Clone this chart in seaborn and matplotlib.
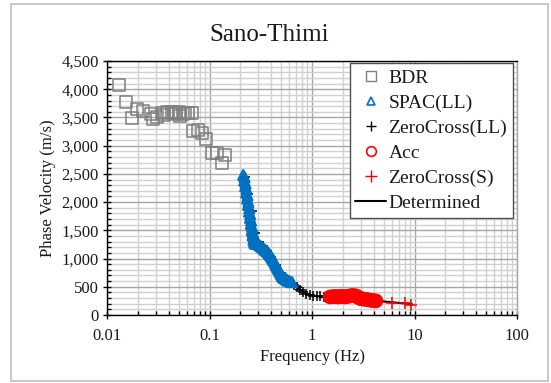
import numpy as np
import pandas as pd
import matplotlib
matplotlib.use("Agg")
import matplotlib.pyplot as plt
import seaborn as sns
from matplotlib.lines import Line2D
from matplotlib.ticker import LogLocator, MultipleLocator, FuncFormatter
from matplotlib.patches import Rectangle

# ---- data ----
bdr_f = [0.0132, 0.0153, 0.0174, 0.0195, 0.0226, 0.0269, 0.0283, 0.0305, 0.0342, 0.0360,
         0.0382, 0.0428, 0.0450, 0.0471, 0.0500, 0.0516, 0.0550, 0.0577, 0.0620, 0.0670,
         0.0695, 0.0778, 0.0839, 0.0925, 0.105, 0.1175, 0.1315, 0.1416]
bdr_v = [4070, 3779, 3485, 3650, 3620, 3561, 3478, 3513, 3574, 3540,
         3591, 3591, 3560, 3584, 3600, 3526, 3560, 3574, 3580, 3584,
         3260, 3278, 3219, 3124, 2865, 2876, 2698, 2840]

spac_f = [0.213, 0.220, 0.218, 0.225, 0.223, 0.230, 0.228, 0.235, 0.233, 0.240, 0.238, 0.245,
          0.243, 0.250, 0.248, 0.255, 0.253, 0.260, 0.258, 0.265, 0.263, 0.270, 0.268, 0.275,
          0.273, 0.280, 0.285, 0.29, 0.30, 0.31, 0.32, 0.33, 0.34, 0.35, 0.36, 0.37, 0.38,
          0.39, 0.40, 0.41, 0.42, 0.43, 0.44, 0.45, 0.46, 0.47, 0.48, 0.49, 0.50, 0.51, 0.52,
          0.53, 0.54, 0.55, 0.56, 0.57, 0.58, 0.60, 0.62, 0.64]
spac_v = [2480, 2440, 2380, 2330, 2280, 2230, 2170, 2120, 2060, 2000, 1950, 1890,
          1830, 1780, 1720, 1670, 1610, 1560, 1500, 1460, 1410, 1370, 1330, 1300,
          1280, 1260, 1270, 1260, 1250, 1230, 1210, 1190, 1170, 1150, 1130, 1110, 1090,
          1060, 1030, 1000, 970, 940, 900, 870, 840, 810, 780, 750, 720, 690, 670,
          660, 650, 640, 630, 620, 610, 600, 590, 580]

zcll_f = [0.22, 0.24, 0.26, 0.28, 0.30, 0.33, 0.36, 0.40, 0.45, 0.50, 0.55, 0.60, 0.66,
          0.71, 0.76, 0.82, 0.88, 0.95, 1.02, 1.11, 1.2, 1.3]
zcll_v = [2450, 2150, 1850, 1450, 1300, 1220, 1130, 1020, 880, 740, 660, 600, 540,
          500, 450, 413, 380, 354, 345, 337, 330, 324]

acc_f = [1.5, 1.6, 1.7, 1.8, 1.9, 2.0, 2.1, 2.2, 2.3, 2.4, 2.5, 2.6, 2.7, 2.8, 2.9,
         3.0, 3.2, 3.4, 3.6, 3.8, 4.0, 4.2]
acc_v = [320, 325, 330, 320, 330, 325, 320, 330, 335, 340, 345, 340, 335, 320, 300,
         290, 280, 275, 265, 260, 255, 250]

zcs_f = [6.0, 8.0, 9.3]
zcs_v = [215, 205, 185]

det_f = [0.215, 0.23, 0.25, 0.265, 0.28, 0.31, 0.35, 0.42, 0.47, 0.51, 0.57, 0.65, 0.72,
         0.82, 0.95, 1.1, 1.3, 1.6, 2.0, 2.6, 3.2, 4.0, 5.0, 6.5, 8.0, 9.5]
det_v = [2480, 2300, 2000, 1700, 1420, 1290, 1170, 990, 830, 700, 630, 560, 490,
         410, 355, 335, 322, 315, 305, 295, 280, 260, 240, 220, 205, 190]

x_ticks = [0.01, 0.1, 1, 10, 100]
x_labels = ["0.01", "0.1", "1", "10", "100"]

# ---- style ----
sns.set_theme(style="white")
plt.rcParams["font.family"] = ["Liberation Serif", "DejaVu Serif"]

fig = plt.figure(figsize=(5.51, 3.83), dpi=100)
ax = fig.add_axes([107/551, 1-315/383, 410/551, 254/383])

gray = "#7f7f7f"
blue = "#0070C0"
red = "#FF0000"

sns.lineplot(x=det_f, y=det_v, color="black", lw=1.5, sort=False, estimator=None, ax=ax, zorder=3)
sns.scatterplot(x=bdr_f, y=bdr_v, marker="s", s=72, facecolor="none", edgecolor=gray, linewidth=1.1, ax=ax, zorder=4)
sns.scatterplot(x=zcll_f, y=zcll_v, marker="+", s=45, color="black", linewidth=1.1, ax=ax, zorder=4)
sns.scatterplot(x=spac_f, y=spac_v, marker="^", s=48, facecolor="none", edgecolor=blue, linewidth=1.7, ax=ax, zorder=5)
sns.scatterplot(x=acc_f, y=acc_v, marker="o", s=70, facecolor="none", edgecolor=red, linewidth=2.2, ax=ax, zorder=5)
sns.scatterplot(x=zcs_f, y=zcs_v, marker="+", s=70, color=red, linewidth=1.1, ax=ax, zorder=6)

ax.set_xscale("log")
ax.set_xlim(0.01, 100)
ax.set_ylim(0, 4500)
ax.set_xticks(x_ticks)
ax.set_xticklabels(x_labels)
ax.xaxis.set_minor_locator(LogLocator(base=10, subs=np.arange(2, 10)))
ax.xaxis.set_minor_formatter(plt.NullFormatter())
ax.yaxis.set_major_locator(MultipleLocator(500))
ax.yaxis.set_minor_locator(MultipleLocator(100))
ax.yaxis.set_major_formatter(FuncFormatter(lambda v, p: f"{int(v):,}"))

ax.grid(which="major", color="#a6a6a6", lw=1.0, zorder=0)
ax.grid(which="minor", color="#d0d0d0", lw=1.0, zorder=0)
ax.set_axisbelow(True)

for s in ax.spines.values():
    s.set_color("black")
    s.set_linewidth(1.0)
ax.spines["right"].set_color("#a6a6a6")

ax.tick_params(axis="both", which="major", direction="inout", length=6, width=1,
               color="black", labelsize=12, labelcolor="#1a1a1a", bottom=True, left=True)
ax.tick_params(axis="both", which="minor", direction="in", length=3, width=1,
               color="black", bottom=True, left=True)
ax.tick_params(axis="x", which="major", pad=6)
ax.tick_params(axis="y", which="major", pad=3)

ax.set_xlabel("Frequency (Hz)", fontsize=12, color="#1a1a1a", labelpad=4)
ax.set_ylabel("Phase Velocity (m/s)", fontsize=12, color="#1a1a1a", labelpad=4)

fig.text(269/551, 1-35/383, "Sano-Thimi", ha="center", va="center", fontsize=18, color="#1a1a1a")

handles = [
    Line2D([], [], ls="none", marker="s", ms=7, mfc="none", mec=gray, mew=1.0),
    Line2D([], [], ls="none", marker="^", ms=6, mfc="none", mec=blue, mew=1.2),
    Line2D([], [], ls="none", marker="+", ms=7, color="black", mew=1.0),
    Line2D([], [], ls="none", marker="o", ms=7, mfc="none", mec=red, mew=1.2),
    Line2D([], [], ls="none", marker="+", ms=8, color=red, mew=1.0),
    Line2D([], [], color="black", lw=1.5),
]
labels = ["BDR", "SPAC(LL)", "ZeroCross(LL)", "Acc", "ZeroCross(S)", "Determined"]
leg = ax.legend(handles, labels, loc="upper right", bbox_to_anchor=(0.995, 0.998),
                fontsize=14, frameon=True, fancybox=False, framealpha=1.0,
                edgecolor="#505050", handlelength=1.6, handletextpad=0.1,
                labelspacing=0.38, borderpad=0.3, borderaxespad=0.1)
leg.get_frame().set_linewidth(1.0)
for t in leg.get_texts():
    t.set_color("#1a1a1a")

# outer frame of the screenshot
fig.patches.append(Rectangle((11/551, 2/383), 537/551, 377/383, transform=fig.transFigure,
                             fill=False, ec="#bfbfbf", lw=1.2))

fig.savefig("out.png", dpi=100)
